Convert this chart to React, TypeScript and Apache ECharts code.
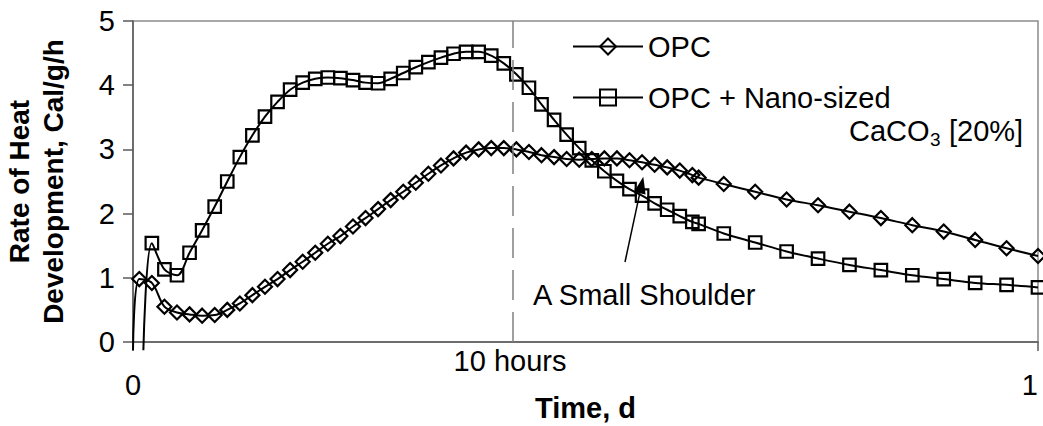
import { useEffect, useRef } from 'react';
import * as echarts from 'echarts';

const FONT = '"Liberation Sans", Arial, Helvetica, sans-serif';

// Sampling times, minutes after mixing
const sampleMinutes = [
  10, 30, 50, 70, 90, 110, 130, 150, 170, 190, 210, 230, 250, 270, 290, 310, 330, 350, 370, 390,
  410, 430, 450, 470, 490, 510, 530, 550, 570, 590, 610, 630, 650, 670, 690, 710, 730, 750, 770, 790,
  810, 830, 850, 870, 890, 900, 940, 990, 1040, 1090, 1140, 1190, 1240, 1290, 1340, 1390, 1440,
];

// OPC, one value per sample time (from 10 min)
const opcValues = [
  0.98, 0.92, 0.55, 0.46, 0.43, 0.41, 0.42, 0.5, 0.6, 0.73, 0.86, 0.98, 1.12, 1.25, 1.39, 1.53, 1.65, 1.8, 1.93, 2.07,
  2.21, 2.34, 2.48, 2.62, 2.75, 2.86, 2.95, 3.0, 3.02, 3.02, 3.0, 2.96, 2.91, 2.88, 2.85, 2.84, 2.85, 2.86, 2.86, 2.83,
  2.8, 2.76, 2.72, 2.67, 2.6, 2.56, 2.46, 2.34, 2.22, 2.13, 2.03, 1.93, 1.82, 1.72, 1.59, 1.46, 1.34,
];

// OPC + nano CaCO3, one value per sample time (from 30 min)
const nanoValues = [
  1.54, 1.13, 1.04, 1.39, 1.74, 2.11, 2.5, 2.88, 3.22, 3.51, 3.74, 3.93, 4.04, 4.1, 4.12, 4.11, 4.08, 4.04, 4.03,
  4.1, 4.19, 4.28, 4.36, 4.43, 4.49, 4.52, 4.52, 4.46, 4.34, 4.17, 3.96, 3.7, 3.46, 3.23, 3.02, 2.83, 2.66, 2.51, 2.38,
  2.28, 2.16, 2.06, 1.96, 1.87, 1.84, 1.69, 1.55, 1.41, 1.3, 1.2, 1.12, 1.04, 0.98, 0.92, 0.89, 0.85,
];

// Where each curve enters from below the time axis
const opcLeadIn = { minute: 0, value: -0.13 };
const nanoLeadIn = { minute: 16.5, value: -0.13 };

const seriesNames = ['OPC', 'OPC + Nano-sized'];
const xTickLabels = ['0', '1'];
const markerHours = 10;

export default function App() {
  const ref = useRef<HTMLDivElement>(null);

  useEffect(() => {
    const chart = echarts.init(ref.current as HTMLDivElement, null, { renderer: 'svg' });
    const toDay = (m: number) => m / 1440;

    const opcData: any[] = [
      { value: [toDay(opcLeadIn.minute), opcLeadIn.value], symbol: 'none' },
      ...sampleMinutes.map((m, i) => [toDay(m), opcValues[i]]),
    ];
    const nanoData: any[] = [
      { value: [toDay(nanoLeadIn.minute), nanoLeadIn.value], symbol: 'none' },
      ...sampleMinutes.slice(1).map((m, i) => [toDay(m), nanoValues[i]]),
    ];

    const FS = 29;
    const axisColor = '#5a5a5a';
    const txt = (text: string, x: number, y: number, size: number, align = 'left', weight = 'normal') => ({
      type: 'text',
      x,
      y,
      silent: true,
      style: {
        text,
        fill: '#000',
        fontSize: size,
        fontFamily: FONT,
        fontWeight: weight,
        align,
        textAlign: align,
        verticalAlign: 'middle',
        textVerticalAlign: 'middle',
      },
    });

    // arrow geometry
    const tip = [643.3, 176.7];
    const tail = [625, 262];
    const dx = tip[0] - tail[0];
    const dy = tip[1] - tail[1];
    const len = Math.sqrt(dx * dx + dy * dy);
    const ux = dx / len;
    const uy = dy / len;
    const headLen = 17;
    const headHalf = 6;
    const bx = tip[0] - ux * headLen;
    const by = tip[1] - uy * headLen;

    chart.setOption({
      animation: false,
      textStyle: { fontFamily: FONT },
      grid: {
        left: 133,
        right: 5,
        top: 21,
        bottom: 84,
        outerBoundsMode: 'none',
        containLabel: false,
        show: true,
        borderColor: '#8c8c8c',
        borderWidth: 1.5,
        backgroundColor: 'transparent',
      },
      xAxis: {
        type: 'value',
        min: 0,
        max: 1,
        interval: 1,
        name: 'Time, d',
        nameLocation: 'middle',
        nameGap: 51,
        nameMoveOverlap: false,
        nameTextStyle: { fontSize: FS, fontWeight: 'bold', color: '#000', fontFamily: FONT },
        axisLine: { onZero: false, lineStyle: { color: axisColor, width: 1.5 } },
        axisTick: { show: true, length: 9, lineStyle: { color: axisColor, width: 1.5 } },
        axisLabel: {
          fontSize: FS,
          color: '#000',
          margin: 28,
          fontFamily: FONT,
          showMinLabel: true,
          showMaxLabel: true,
          alignMaxLabel: 'right',
          hideOverlap: false,
          formatter: (v: number) => (v === 0 ? xTickLabels[0] : xTickLabels[1]),
        },
        splitLine: { show: false },
      },
      yAxis: {
        type: 'value',
        min: 0,
        max: 5,
        interval: 1,
        name: 'Rate of Heat\nDevelopment, Cal/g/h',
        nameLocation: 'middle',
        nameRotate: 90,
        nameGap: 63,
        nameMoveOverlap: false,
        nameTextStyle: { fontSize: 28, fontWeight: 'bold', color: '#000', lineHeight: 34, fontFamily: FONT },
        axisLine: { show: true, lineStyle: { color: axisColor, width: 1.5 } },
        axisTick: { show: true, length: 10, lineStyle: { color: axisColor, width: 1.5 } },
        axisLabel: { fontSize: FS, color: '#000', margin: 18, fontFamily: FONT },
        splitLine: { show: false },
      },
      legend: {
        orient: 'vertical',
        left: 572,
        top: 32,
        itemWidth: 70,
        itemHeight: 20,
        itemGap: 22,
        padding: 0,
        textStyle: { fontSize: FS, color: '#000', fontFamily: FONT },
        data: seriesNames,
      },
      series: [
        {
          name: seriesNames[0],
          type: 'line',
          data: opcData,
          smooth: 0.35,
          clip: false,
          symbol: 'diamond',
          symbolSize: 14,
          lineStyle: { color: '#000', width: 2 },
          itemStyle: { color: 'rgba(255,255,255,0)', borderColor: '#000', borderWidth: 2.2 },
          markLine: {
            silent: true,
            symbol: ['none', 'none'],
            label: { show: false },
            lineStyle: { color: '#808080', type: [30, 12], width: 1.5 },
            data: [{ xAxis: markerHours / 24 }],
          },
          z: 3,
        },
        {
          name: seriesNames[1],
          type: 'line',
          data: nanoData,
          smooth: 0.35,
          clip: false,
          symbol: 'rect',
          symbolSize: 12.5,
          lineStyle: { color: '#000', width: 2 },
          itemStyle: { color: 'rgba(255,255,255,0)', borderColor: '#000', borderWidth: 2.2 },
          z: 4,
        },
      ],
      graphic: [
        txt('10 hours', 510, 361, FS, 'center'),
        txt('A Small Shoulder', 533, 295, FS, 'left'),
        txt('CaCO', 849, 131, FS, 'left'),
        txt('3', 930, 139, 19, 'left'),
        txt('[20%]', 949, 131, FS, 'left'),
        {
          type: 'line',
          silent: true,
          shape: { x1: tail[0], y1: tail[1], x2: bx, y2: by },
          style: { stroke: '#000', lineWidth: 1.5 },
        },
        {
          type: 'polygon',
          silent: true,
          shape: {
            points: [
              [tip[0], tip[1]],
              [bx - uy * headHalf, by + ux * headHalf],
              [bx + uy * headHalf, by - ux * headHalf],
            ],
          },
          style: { fill: '#000' },
        },
      ],
    });

    return () => chart.dispose();
  }, []);

  return (
    <div
      ref={ref}
      style={{ position: 'absolute', left: 0, top: 0, width: 1043, height: 426, background: '#fff' }}
    />
  );
}
